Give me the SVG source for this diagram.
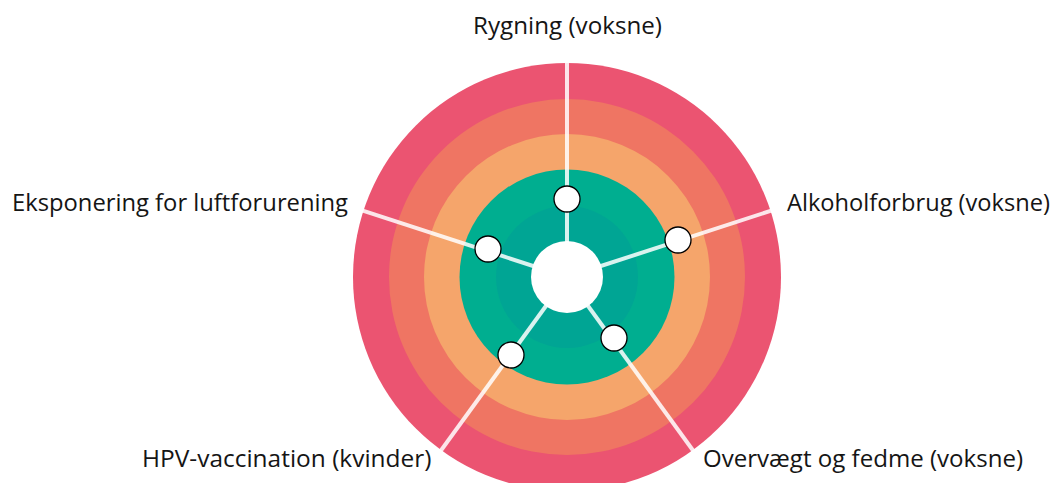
<svg xmlns="http://www.w3.org/2000/svg" width="1056" height="483" viewBox="0 0 1056 483">
<style>
.lbl{font-family:"Open Sans","Noto Sans",sans-serif;font-size:24px;fill:#151515}
.spoke{stroke:#ffffff;stroke-width:4;stroke-opacity:0.85;fill:none}
.node{fill:#ffffff;stroke:#000000;stroke-width:1.3}
</style>
<rect width="1056" height="483" fill="#ffffff"/>
<g id="rings">
<circle cx="567" cy="277" r="214" fill="#eb5471"/>
<circle cx="567" cy="277" r="178" fill="#ef7563"/>
<circle cx="567" cy="277" r="143" fill="#f5a56b"/>
<circle cx="567" cy="277" r="107.5" fill="#00ae90"/>
<circle cx="567" cy="277" r="71" fill="#00a594"/>
</g>
<g id="connectors">
<line class="spoke" x1="567" y1="277" x2="567" y2="62"/>
<line class="spoke" x1="567" y1="277" x2="772" y2="210.4"/>
<line class="spoke" x1="567" y1="277" x2="693.6" y2="451.3"/>
<line class="spoke" x1="567" y1="277" x2="440.4" y2="451.3"/>
<line class="spoke" x1="567" y1="277" x2="362" y2="210.4"/>
</g>
<g id="center"><circle cx="567" cy="277" r="36" fill="#ffffff"/></g>
<g id="node-rygning"><circle class="node" cx="567" cy="199" r="13"/><text class="lbl" x="473" y="34" textLength="189" lengthAdjust="spacingAndGlyphs">Rygning (voksne)</text></g>
<g id="node-alkohol"><circle class="node" cx="678" cy="240" r="13"/><text class="lbl" x="787" y="211" textLength="263" lengthAdjust="spacingAndGlyphs">Alkoholforbrug (voksne)</text></g>
<g id="node-overvaegt"><circle class="node" cx="614" cy="338" r="13"/><text class="lbl" x="703" y="467" textLength="320" lengthAdjust="spacingAndGlyphs">Overvægt og fedme (voksne)</text></g>
<g id="node-hpv"><circle class="node" cx="511" cy="355" r="13"/><text class="lbl" x="142" y="467" textLength="289.5" lengthAdjust="spacingAndGlyphs">HPV-vaccination (kvinder)</text></g>
<g id="node-luft"><circle class="node" cx="488" cy="249" r="13"/><text class="lbl" x="12" y="211" textLength="336" lengthAdjust="spacingAndGlyphs">Eksponering for luftforurening</text></g>
</svg>
